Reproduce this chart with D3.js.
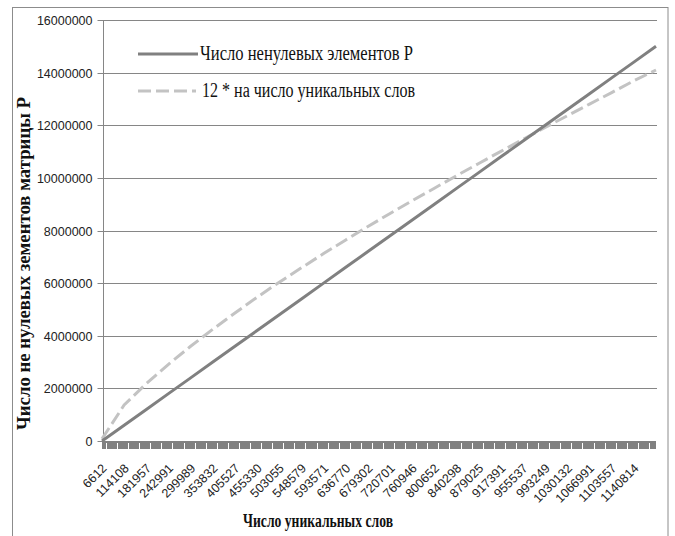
<!DOCTYPE html>
<html><head><meta charset="utf-8">
<script src="https://cdn.jsdelivr.net/npm/d3@7"></script>
<style>body{margin:0;background:#fff}svg{display:block}</style>
</head><body>
<svg id="c" width="675" height="536"></svg>
<script>
// Category positions (index in the 51-category axis) of labelled points
const pointIndex = [0,2,4,6,8,10,12,14,16,18,20,22,24,26,28,30,32,34,36,38,40,42,44,46,48,50];
// X tick labels (number of unique words), shown at every second category
const xLabels = [6612,114108,181957,242991,299989,353832,405527,455330,503055,548579,593571,636770,679302,720701,760946,800652,840298,879025,917391,955537,993249,1030132,1066991,1103557,1140814];
// Series 1: число ненулевых элементов P
const nonZero = [0,600000,1200000,1800000,2400000,3000000,3600000,4200000,4800000,5400000,6000000,6600000,7200000,7800000,8400000,9000000,9600000,10200000,10800000,11400000,12000000,12600000,13200000,13800000,14400000,15000000];
// Series 2: 12 * число уникальных слов
const twelveTimes = [79344,1369296,2183484,2915892,3599868,4245984,4866324,5463960,6036660,6582948,7122852,7641240,8151624,8648412,9131352,9607824,10083576,10548300,11008692,11466444,11918988,12361584,12803892,13242684,13689768,14100000];
const yTicks = [0,2000000,4000000,6000000,8000000,10000000,12000000,14000000,16000000];
const seriesNames = ["Число ненулевых элементов P","12 * на число уникальных слов"];

const svg = d3.select("#c");
const x = d3.scaleLinear().domain([0,50]).range([102,656]);
const y = d3.scaleLinear().domain([0,16000000]).range([441,20]);
const grid = "#868686";
const serif = "'Liberation Serif', 'Times New Roman', serif";

// outer border
svg.append("rect").attr("x",12.5).attr("y",7.5).attr("width",655.5).attr("height",560)
  .attr("fill","none").attr("stroke","#8c8c8c").attr("stroke-width",1);

// gridlines
svg.append("g").selectAll("line").data(yTicks.filter(d=>d>0)).join("line")
  .attr("x1",103).attr("x2",657).attr("y1",d=>Math.round(y(d))+0.5).attr("y2",d=>Math.round(y(d))+0.5)
  .attr("stroke",grid).attr("stroke-width",1);

// y axis
const yAxis = svg.append("g").attr("transform","translate(103.5,0)")
  .call(d3.axisLeft(y).tickValues(yTicks).tickSize(6).tickPadding(5).tickFormat(d3.format("d")));
yAxis.select(".domain").attr("stroke",grid).attr("d","M0,"+y(16000000)+"V"+y(0));
yAxis.selectAll(".tick line").attr("stroke",grid);
yAxis.selectAll(".tick text").attr("font-family","'Liberation Sans', Arial, sans-serif").attr("font-size",12.5).attr("fill","#222");
yAxis.selectAll(".tick").attr("transform",d=>"translate(0,"+(Math.round(y(d))+0.5)+")");

// x axis band
svg.append("rect").attr("x",x(0)).attr("y",441).attr("width",x(50)-x(0)).attr("height",8).attr("fill","#808080");
svg.append("g").selectAll("line").data(d3.range(50)).join("line")
  .attr("x1",d=>Math.round(x(d))+4.5).attr("x2",d=>Math.round(x(d))+4.5).attr("y1",443).attr("y2",449)
  .attr("stroke","#fff").attr("stroke-width",1);

// x labels
const xAxis = svg.append("g").attr("transform","translate(0,449)")
  .call(d3.axisBottom(x).tickValues(pointIndex.slice(0,xLabels.length)).tickSize(0).tickFormat((d,i)=>xLabels[i]));
xAxis.select(".domain").remove();
xAxis.selectAll(".tick text")
  .attr("font-family","'Liberation Sans', Arial, sans-serif").attr("font-size",12.5).attr("fill","#222")
  .attr("text-anchor","end").attr("dy",0).attr("y",0)
  .attr("transform","translate(5,20) rotate(-45)");

// lines
const line = vals => d3.line().x((d,i)=>x(pointIndex[i])).y(d=>y(d))(vals);
svg.append("path").attr("d",line(twelveTimes)).attr("fill","none").attr("stroke","#c3c3c3")
  .attr("stroke-width",3).attr("stroke-dasharray","13,5");
svg.append("path").attr("d",line(nonZero)).attr("fill","none").attr("stroke","#808080")
  .attr("stroke-width",3);

// legend
const lg = svg.append("g");
lg.append("line").attr("x1",138).attr("x2",198).attr("y1",54).attr("y2",54).attr("stroke","#808080").attr("stroke-width",3);
lg.append("line").attr("x1",138).attr("x2",196).attr("y1",91).attr("y2",91).attr("stroke","#c3c3c3").attr("stroke-width",3).attr("stroke-dasharray","13,5");
lg.selectAll("text").data(seriesNames).join("text")
  .attr("x",(d,i)=>i?202:200).attr("y",(d,i)=>i?97:60)
  .attr("font-family",serif).attr("font-size",20).attr("fill","#111")
  .attr("textLength",213).attr("lengthAdjust","spacingAndGlyphs")
  .text(d=>d);

// axis titles
svg.append("text").attr("x",243).attr("y",527)
  .attr("font-family",serif).attr("font-weight","bold").attr("font-size",18).attr("fill","#111")
  .attr("textLength",150).attr("lengthAdjust","spacingAndGlyphs")
  .text("Число уникальных слов");
svg.append("text").attr("transform","translate(30,430) rotate(-90)")
  .attr("font-family",serif).attr("font-weight","bold").attr("font-size",19).attr("fill","#111")
  .attr("textLength",333).attr("lengthAdjust","spacingAndGlyphs")
  .text("Число не нулевых зементов матрицы Р");
</script>
</body></html>
